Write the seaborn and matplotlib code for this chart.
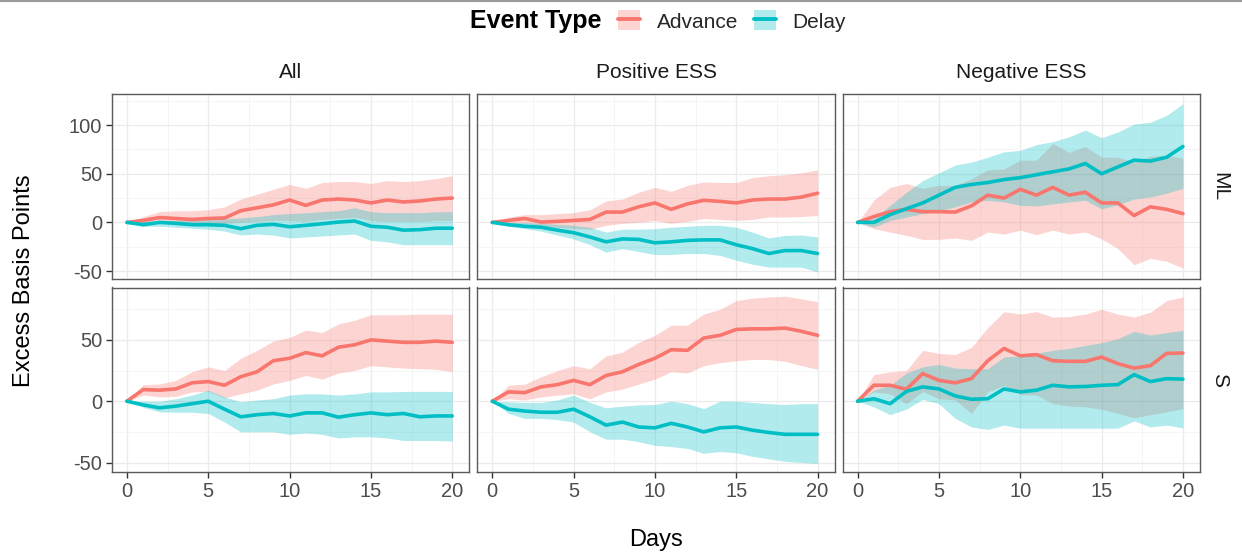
import matplotlib
matplotlib.use("Agg")
import numpy as np
import pandas as pd
import seaborn as sns
import matplotlib.pyplot as plt
from matplotlib.patches import Patch
from matplotlib.lines import Line2D
from matplotlib.legend_handler import HandlerTuple
from matplotlib.ticker import MultipleLocator

sns.set_theme(style="white")
plt.rcParams["font.family"] = ["Liberation Sans", "DejaVu Sans"]
plt.rcParams["axes.unicode_minus"] = False

# ---------------- data ----------------
days = list(range(21))
columns = ["All", "Positive ESS", "Negative ESS"]
rows = ["ML", "S"]
event_types = ["Advance", "Delay"]
colors = {"Advance": "#F8766D", "Delay": "#00BFC4"}

# All / ML
all_ml_adv = [0, 2, 5, 4, 3, 4, 4.5, 12, 15, 18, 23, 17.5, 23, 24, 23, 20, 23, 21, 22, 24, 25]
all_ml_adv_hi = [0, 6, 11, 12, 12, 13, 16, 24, 29, 34, 39, 35, 41, 42, 42, 40, 43, 42, 43, 45, 48]
all_ml_adv_lo = [0, -1, 0, -1, -2, -2, -1, 0, 1, 2, 2, 1, 3, 4, 5, 2, 1, 1, 1, 2, 2]
all_ml_del = [0, -2.4, 0, -1, -2.4, -2.4, -3, -6.5, -3, -2, -4.5, -3, -1.4, 0.3, 1.4, -4, -5, -8, -7.5, -6, -6]
all_ml_del_hi = [0, 1, 2, 2, 3, 4, 4, 4.5, 6, 8, 9, 10, 11, 12, 15, 11, 10, 10, 10, 11, 11]
all_ml_del_lo = [0, -4, -4, -5, -6, -7, -9, -13, -12, -13, -16, -15, -14, -13, -12, -18.5, -20, -23, -23, -23, -23]

# Positive ESS / ML
pos_ml_adv = [0, 2, 4, 0.3, 1, 2, 3, 10.6, 10.6, 16, 20, 13.4, 19, 22.7, 21.6, 20, 23, 24, 24, 26, 30]
pos_ml_adv_hi = [0, 5.5, 8, 8, 9, 10, 13, 22, 24, 31, 36, 32, 38, 41.6, 41, 41, 46, 48, 49, 51, 54]
pos_ml_adv_lo = [0, -1, -1, -4, -5, -6.5, -7, -3, -1, 0, 2, -1, 1, 4, 3, 2, 3, 5.5, 5.5, 6, 7]
pos_ml_del = [0, -2.4, -4, -5, -8, -10.6, -15, -20, -17, -17.5, -21, -20, -18.5, -18, -18, -23, -27, -32, -29, -29, -32]
pos_ml_del_hi = [0, 0, 0, -1, -2, -3, -5, -10, -7, -7, -6.5, -5, -4, -3, -3, -5, -10, -16, -13.4, -13, -15]
pos_ml_del_lo = [0, -4, -6.5, -9, -13, -17, -23, -30.6, -27, -30, -33, -33, -32, -32, -34, -39, -43, -46, -46, -46, -51]

# Negative ESS / ML
neg_ml_adv = [0, 6, 11, 13.4, 11, 11, 10.6, 17, 28, 25, 34, 28, 36, 28, 31, 20, 20, 7, 16, 13.4, 9]
neg_ml_adv_hi = [0, 23, 36, 40, 35, 38, 38, 45, 54, 55, 64, 64, 81, 72, 78, 67, 67, 62, 68, 69, 66]
neg_ml_adv_lo = [0, -6.5, -10, -13.4, -17.5, -17.5, -16, -18.5, -10, -12, -8, -12.7, -8, -12, -10, -17, -27, -43.6, -37, -40, -47]
neg_ml_del = [0, 0, 8, 14, 20, 28, 36, 39, 41, 44, 46, 49, 52, 55, 60.5, 50, 57, 64, 63, 67, 78]
neg_ml_del_hi = [0, 4, 17.5, 31, 43, 51, 59, 62, 67, 72.5, 74, 80, 83, 88, 95, 87, 93, 101, 103, 110, 122]
neg_ml_del_lo = [0, -5, 2, 5.5, 9, 12, 16, 21, 22.7, 21, 17.5, 17, 19, 21, 22.7, 14, 18, 24, 26, 30, 35]

# All / S
all_s_adv = [0, 9.5, 9, 10, 15, 16, 13, 20, 24, 33, 35, 39.6, 37, 44, 46, 50, 49, 48, 48, 49, 48]
all_s_adv_hi = [0, 13.5, 14, 17, 24, 28, 25, 35, 41.5, 49, 52, 58, 56, 63, 66, 70.5, 70.5, 70.5, 71, 71, 71]
all_s_adv_lo = [0, 5, 3.5, 4, 7.6, 8, 2.7, 6, 9, 14, 17, 21, 18, 23, 25, 29, 28, 27, 26.5, 26, 24]
all_s_del = [0, -3, -5.4, -4, -2, 0, -6.5, -12.7, -11, -10, -12, -9.5, -9.5, -13, -11, -9.5, -11, -10, -12.7, -12, -12]
all_s_del_hi = [0, 0, 0, 2, 5, 9, 3.5, -0.5, 1, 2, 5, 6, 6, 5, 6, 7.6, 7.6, 8, 8, 8, 8]
all_s_del_lo = [0, -5, -8.7, -9, -9, -10, -17, -25, -25, -25, -27, -26, -27, -30, -29, -29, -30, -32, -32, -32, -32.5]

# Positive ESS / S
pos_s_adv = [0, 7.6, 7, 11.7, 13.5, 17, 13.5, 21, 24, 30, 35, 42, 41.5, 51.5, 53.7, 58.5, 59, 59, 59.6, 57, 53.7]
pos_s_adv_hi = [0, 13, 14, 20, 25, 29, 26.5, 37, 40, 48, 53.7, 62, 62, 71, 75, 82, 84, 85, 85.6, 83.5, 81]
pos_s_adv_lo = [0, 2, 1, 3.5, 5, 6, 2, 7.6, 9.8, 14, 18, 24, 23, 29, 31.4, 33, 34, 34, 32.5, 29, 26]
pos_s_del = [0, -6.5, -8, -9, -9, -6.5, -12.7, -19.5, -17, -21, -21.7, -18, -21, -25, -21.7, -21, -23.6, -25.5, -27, -27, -27]
pos_s_del_hi = [0, -0.5, -1, -1, 1, 5, -1, -5.4, -4, -3, -2.7, 0, -2, -6, 0, 0, -1, -2, -2.7, -2, -2]
pos_s_del_lo = [0, -10, -14, -14, -15, -17, -25, -31, -31, -33, -36, -37, -38.5, -42.5, -41, -42, -45, -47, -49, -50, -50.7]

# Negative ESS / S
neg_s_adv = [0, 13, 13, 9.8, 22.5, 17, 15, 18.4, 33, 43, 37, 38, 33, 32.5, 32.5, 36, 30.6, 27, 29, 39, 39.3]
neg_s_adv_hi = [0, 21.7, 24, 25, 41.5, 39, 38, 44, 60, 73, 71, 73, 68.6, 69, 71, 75, 71, 68.6, 72.6, 82, 85]
neg_s_adv_lo = [0, 7.6, 6, -2, 8, 2, 1, -10, 7.6, 13, 5.4, 5, -2, -4, -4.6, -6.5, -10, -13.5, -11, -8.7, -6]
neg_s_del = [0, 2, -2, 8, 11.7, 10, 4.3, 1.6, 2, 10, 7.6, 9, 13, 11.7, 12, 13, 13.5, 21.7, 16, 18.4, 18]
neg_s_del_hi = [0, 9, 13, 23, 28, 30, 27, 26.5, 26.5, 36, 37, 39, 41.5, 43, 45.5, 47.7, 51, 57, 54, 56, 57.7]
neg_s_del_lo = [0, -4.6, -11, -6.5, 1.6, -2, -14, -21, -23, -19.5, -22, -22, -22, -22, -22, -22, -22, -16, -21, -19.5, -21.7]

panels = {
    ("ML", "All"): (all_ml_adv, all_ml_adv_lo, all_ml_adv_hi, all_ml_del, all_ml_del_lo, all_ml_del_hi),
    ("ML", "Positive ESS"): (pos_ml_adv, pos_ml_adv_lo, pos_ml_adv_hi, pos_ml_del, pos_ml_del_lo, pos_ml_del_hi),
    ("ML", "Negative ESS"): (neg_ml_adv, neg_ml_adv_lo, neg_ml_adv_hi, neg_ml_del, neg_ml_del_lo, neg_ml_del_hi),
    ("S", "All"): (all_s_adv, all_s_adv_lo, all_s_adv_hi, all_s_del, all_s_del_lo, all_s_del_hi),
    ("S", "Positive ESS"): (pos_s_adv, pos_s_adv_lo, pos_s_adv_hi, pos_s_del, pos_s_del_lo, pos_s_del_hi),
    ("S", "Negative ESS"): (neg_s_adv, neg_s_adv_lo, neg_s_adv_hi, neg_s_del, neg_s_del_lo, neg_s_del_hi),
}

# ---------------- figure ----------------
W, H = 1242, 555
fig, axes = plt.subplots(2, 3, figsize=(W / 100, H / 100), dpi=100, sharex=True, sharey="row")
fig.patch.set_facecolor("white")
fig.subplots_adjust(left=112 / W, right=1200 / W, top=1 - 94 / H, bottom=1 - 472 / H,
                    wspace=8 / 357.3, hspace=9 / 184.5)

ylims = {"ML": (-57.7, 132), "S": (-57.7, 92.7)}

for i, r in enumerate(rows):
    for j, c in enumerate(columns):
        ax = axes[i, j]
        adv, adv_lo, adv_hi, dl, dl_lo, dl_hi = panels[(r, c)]
        ax.fill_between(days, adv_lo, adv_hi, color=colors["Advance"], alpha=0.3, lw=0, zorder=2)
        ax.fill_between(days, dl_lo, dl_hi, color=colors["Delay"], alpha=0.3, lw=0, zorder=2)
        df = pd.DataFrame({
            "Days": days * 2,
            "value": list(adv) + list(dl),
            "Event Type": ["Advance"] * len(days) + ["Delay"] * len(days),
        })
        sns.lineplot(data=df, x="Days", y="value", hue="Event Type", palette=colors,
                     hue_order=event_types, linewidth=2.6, legend=False, ax=ax,
                     errorbar=None, zorder=3)
        ax.set_xlabel("")
        ax.set_ylabel("")
        ax.set_xlim(-0.92, 21.05)
        ax.set_ylim(*ylims[r])
        ax.xaxis.set_major_locator(MultipleLocator(5))
        ax.xaxis.set_minor_locator(MultipleLocator(2.5))
        ax.yaxis.set_major_locator(MultipleLocator(50))
        ax.yaxis.set_minor_locator(MultipleLocator(25))
        ax.set_axisbelow(True)
        ax.grid(which="major", color="#EBEBEB", lw=0.9)
        ax.grid(which="minor", color="#F4F4F4", lw=0.6)
        ax.tick_params(which="minor", length=0)
        ax.tick_params(which="major", length=4, width=1, color="#333333",
                       labelsize=14.5, labelcolor="#4D4D4D", pad=3)
        ax.tick_params(bottom=(i == 1), left=(j == 0))
        for s in ax.spines.values():
            s.set_color("#5a5a5a")
            s.set_linewidth(1.0)
            s.set_visible(True)

# strip labels
for j, c in enumerate(columns):
    bb = axes[0, j].get_position()
    fig.text((bb.x0 + bb.x1) / 2, 1 - 73 / H, c, ha="center", va="center", fontsize=15, color="#1A1A1A")
for i, r in enumerate(rows):
    bb = axes[i, 2].get_position()
    fig.text(1220 / W, (bb.y0 + bb.y1) / 2, r, ha="center", va="center", rotation=-90,
             fontsize=15, color="#1A1A1A")

# axis titles
fig.text(24 / W, 1 - 281 / H, "Excess Basis Points", rotation=90, ha="center", va="center",
         fontsize=17, color="black")
fig.text(656 / W, 1 - 540 / H, "Days", ha="center", va="center", fontsize=17, color="black")

# legend
fig.text(470 / W, 1 - 21 / H, "Event Type", ha="left", va="center", fontsize=18,
         fontweight="bold", color="black")
handles = [(Patch(facecolor=colors[e], alpha=0.3, edgecolor="none"),
            Line2D([], [], color=colors[e], lw=2.8)) for e in event_types]
fig.legend(handles, event_types, loc="center left", bbox_to_anchor=(618 / W, 1 - 21 / H),
           ncol=2, frameon=False, fontsize=15, handlelength=1.05, handleheight=1.1,
           handletextpad=0.8, columnspacing=0.77, borderaxespad=0, borderpad=0,
           handler_map={tuple: HandlerTuple(ndivide=1, pad=0)})

# thin gray rule at the very top
fig.add_artist(Line2D([0, 1], [1 - 1 / H, 1 - 1 / H], color="#9a9a9a", lw=1.5,
                      transform=fig.transFigure))

fig.savefig("out.png", dpi=100, facecolor="white")
